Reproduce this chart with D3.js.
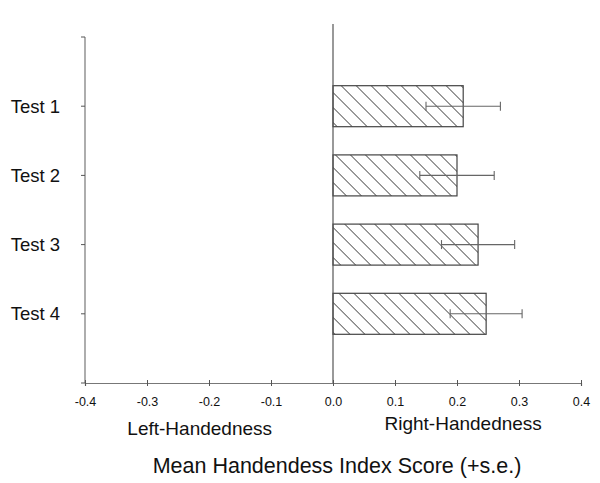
<!DOCTYPE html>
<html>
<head>
<meta charset="utf-8">
<script src="https://cdn.jsdelivr.net/npm/d3@7"></script>
<style>
  body { margin: 0; background: #fff; }
  text { font-family: Arial, "Liberation Sans", sans-serif; fill: #111; }
</style>
</head>
<body>
<div id="chart"></div>
<script>
// values
var categories = ["Test 1", "Test 2", "Test 3", "Test 4"];
var means = [0.21, 0.20, 0.234, 0.247];
var errors = [0.06, 0.06, 0.059, 0.058];
var xTicks = [-0.4, -0.3, -0.2, -0.1, 0.0, 0.1, 0.2, 0.3, 0.4];
var sideLabels = [{text: "Left-Handedness", at: -0.215}, {text: "Right-Handedness", at: 0.21}];
var axisTitle = "Mean Handendess Index Score (+s.e.)";

var W = 600, H = 483;
var svg = d3.select("#chart").append("svg")
  .attr("width", W).attr("height", H);

var x = d3.scaleLinear().domain([-0.4, 0.4]).range([85, 581]);
// categories sit at 1..4, axis spans 0..5
var y = d3.scaleLinear().domain([0, 5]).range([37, 383]);
var barH = 41;

// "\" hatching, ~15px apart along the bar edge
var defs = svg.append("defs");
var pat = defs.append("pattern")
  .attr("id", "hatch")
  .attr("patternUnits", "userSpaceOnUse")
  .attr("width", 10.6).attr("height", 10.6)
  .attr("patternTransform", "rotate(-45)");
pat.append("line")
  .attr("x1", 0).attr("y1", 0).attr("x2", 0).attr("y2", 10.6)
  .attr("stroke", "#222").attr("stroke-width", 1.4);

var axisColor = "#777";

// y axis line (left)
svg.append("line")
  .attr("x1", x(-0.4)).attr("x2", x(-0.4))
  .attr("y1", y(0)).attr("y2", y(5))
  .attr("stroke", axisColor).attr("stroke-width", 1.2);

// y ticks
svg.selectAll(".ytick")
  .data(d3.range(0, 6))
  .enter().append("line")
    .attr("class", "ytick")
    .attr("x1", x(-0.4) - 4).attr("x2", x(-0.4))
    .attr("y1", function(d) { return y(d); })
    .attr("y2", function(d) { return y(d); })
    .attr("stroke", "#555");

// category labels
svg.selectAll(".cat")
  .data(categories)
  .enter().append("text")
    .attr("class", "cat")
    .attr("x", 60)
    .attr("y", function(d, i) { return y(i + 1); })
    .attr("dy", "0.36em")
    .attr("text-anchor", "end")
    .style("font-size", "18.5px")
    .text(function(d) { return d; });

// bars
svg.selectAll(".bar")
  .data(means)
  .enter().append("rect")
    .attr("class", "bar")
    .attr("x", x(0))
    .attr("y", function(d, i) { return y(i + 1) - barH / 2; })
    .attr("width", function(d) { return x(d) - x(0); })
    .attr("height", barH)
    .attr("fill", "url(#hatch)")
    .attr("stroke", "#444")
    .attr("stroke-width", 1.2);

// error bars
var eb = svg.selectAll(".err")
  .data(means)
  .enter().append("g")
    .attr("class", "err")
    .attr("stroke", "#666")
    .attr("stroke-width", 1.1);
eb.append("line")
  .attr("x1", function(d, i) { return x(d - errors[i]); })
  .attr("x2", function(d, i) { return x(d + errors[i]); })
  .attr("y1", function(d, i) { return y(i + 1); })
  .attr("y2", function(d, i) { return y(i + 1); });
eb.append("line")
  .attr("x1", function(d, i) { return x(d - errors[i]); })
  .attr("x2", function(d, i) { return x(d - errors[i]); })
  .attr("y1", function(d, i) { return y(i + 1) - 4.5; })
  .attr("y2", function(d, i) { return y(i + 1) + 4.5; });
eb.append("line")
  .attr("x1", function(d, i) { return x(d + errors[i]); })
  .attr("x2", function(d, i) { return x(d + errors[i]); })
  .attr("y1", function(d, i) { return y(i + 1) - 4.5; })
  .attr("y2", function(d, i) { return y(i + 1) + 4.5; });

// zero line
svg.append("line")
  .attr("x1", x(0)).attr("x2", x(0))
  .attr("y1", 24).attr("y2", y(5))
  .attr("stroke", "#555").attr("stroke-width", 1.2);

// x axis
var xAxis = d3.axisBottom(x)
  .tickValues(xTicks)
  .tickSize(3)
  .tickPadding(11)
  .tickFormat(function(d) { return d.toFixed(1); });
var gx = svg.append("g")
  .attr("transform", "translate(0," + y(5) + ")")
  .call(xAxis);
gx.select(".domain").attr("stroke", axisColor).attr("stroke-width", 1.2);
gx.selectAll(".tick line").attr("y1", -3).attr("stroke", "#555");
gx.selectAll(".tick text")
  .style("font-size", "12.5px")
  .style("font-family", "Arial, 'Liberation Sans', sans-serif")
  .attr("fill", "#222");

// side labels
svg.selectAll(".side")
  .data(sideLabels)
  .enter().append("text")
    .attr("class", "side")
    .attr("x", function(d) { return x(d.at); })
    .attr("y", function(d, i) { return i == 0 ? 435 : 430; })
    .attr("text-anchor", "middle")
    .style("font-size", "19px")
    .text(function(d) { return d.text; });

svg.append("text")
  .attr("x", 337).attr("y", 473)
  .attr("text-anchor", "middle")
  .style("font-size", "21.5px")
  .text(axisTitle);
</script>
</body>
</html>
